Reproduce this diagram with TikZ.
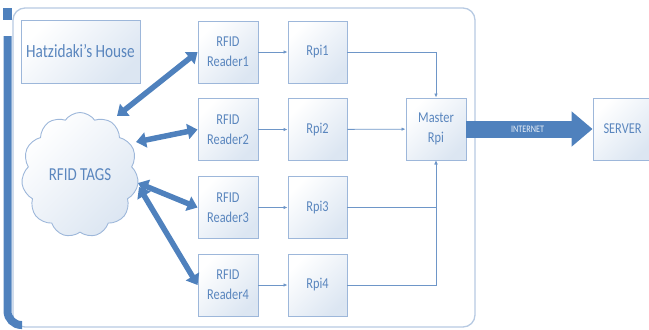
\documentclass[tikz,border=0pt]{standalone}
\usepackage{fontspec}
\setmainfont{Carlito}
\usetikzlibrary{arrows.meta,shapes.symbols}
\definecolor{bd}{HTML}{9DB7DA}
\definecolor{txt}{HTML}{5A86BE}
\definecolor{dark}{HTML}{4F81BD}
\definecolor{thinc}{HTML}{6E96C8}
\definecolor{framec}{HTML}{B7CAE2}
\definecolor{bg}{HTML}{DCE6F2}
\newcommand\vs[1]{\scalebox{1}[1.22]{#1}}
\begin{document}
\begin{tikzpicture}[x=1bp,y=-1bp,
  box/.style={draw=bd, line width=0.9bp, top color=white, bottom color=bg, shading angle=45, text=txt, align=center, inner sep=0pt},
  smallbox/.style={box, minimum width=60bp, minimum height=62bp, font=\fontsize{12.4}{20}\selectfont},
  bigarrow/.style={dark, line width=5.5bp, {Triangle[length=10bp,width=15bp]}-{Triangle[length=10bp,width=15bp]}},
  flow/.style={thinc, line width=0.8bp, -{Latex[length=4bp,width=3.5bp]}}]
\useasboundingbox (0,0) rectangle (649,329);
% frame
\draw[framec, line width=1.3bp, rounded corners=12bp] (13,8) rectangle (475,327);
\draw[dark, line width=8bp, rounded corners=14bp] (7.5,36) -- (7.5,325) -- (22,325);
\fill[dark] (3,8) rectangle (12,20);
% nodes
\node[box, minimum width=119bp, minimum height=63bp, font=\fontsize{15.3}{18}\selectfont] (house) at (80.5,51.5) {\vs{Hatzidaki’s House}};
\node[box, cloud, cloud puffs=11, cloud puff arc=110, cloud ignores aspect, minimum width=117bp, minimum height=125bp, font=\fontsize{15}{18}\selectfont] (tags) at (80,175) {\vs{RFID TAGS}};
\node[smallbox] (r1) at (228,52) {\vs{RFID}\\\vs{Reader1}};
\node[smallbox] (r2) at (228,129.5) {\vs{RFID}\\\vs{Reader2}};
\node[smallbox] (r3) at (228,207.5) {\vs{RFID}\\\vs{Reader3}};
\node[smallbox] (r4) at (228,285) {\vs{RFID}\\\vs{Reader4}};
\node[smallbox, minimum width=59bp] (p1) at (317.5,52) {\vs{Rpi1}};
\node[smallbox, minimum width=59bp] (p2) at (317.5,129.5) {\vs{Rpi2}};
\node[smallbox, minimum width=59bp] (p3) at (317.5,207.5) {\vs{Rpi3}};
\node[smallbox, minimum width=59bp] (p4) at (317.5,285) {\vs{Rpi4}};
\node[smallbox] (m) at (436,129) {\vs{Master}\\\vs{Rpi}};
\node[smallbox, minimum width=59bp] (srv) at (622.5,129) {\vs{SERVER}};
% thin connectors
\draw[flow] (r1) -- (p1);
\draw[flow] (r2) -- (p2);
\draw[flow] (r3) -- (p3);
\draw[flow] (r4) -- (p4);
\draw[flow] (p1.east) -| (m.north);
\draw[flow] (p2) -- (m);
\draw[flow] (p3.east) -| (m.south);
\draw[flow] (p4.east) -| (m.south);
% thick arrows
\coordinate (t1) at (117,116);
\coordinate (t2) at (136,142);
\coordinate (t3) at (138,183);
\coordinate (t4) at (139,187);
\draw[bigarrow] (t1) -- (r1.west);
\draw[bigarrow] (t2) -- (r2.west);
\draw[bigarrow] (t3) -- (r3.west);
\draw[bigarrow] (t4) -- (r4.west);
% internet
\draw[dark, line width=17bp, -{Triangle[length=21bp,width=34bp]}] (m.east) -- (srv.west)
  node[midway, xshift=-2bp, text=white!88!dark, font=\fontsize{8.2}{10}\selectfont] (inet) {\vs{INTERNET}};
\end{tikzpicture}
\end{document}
